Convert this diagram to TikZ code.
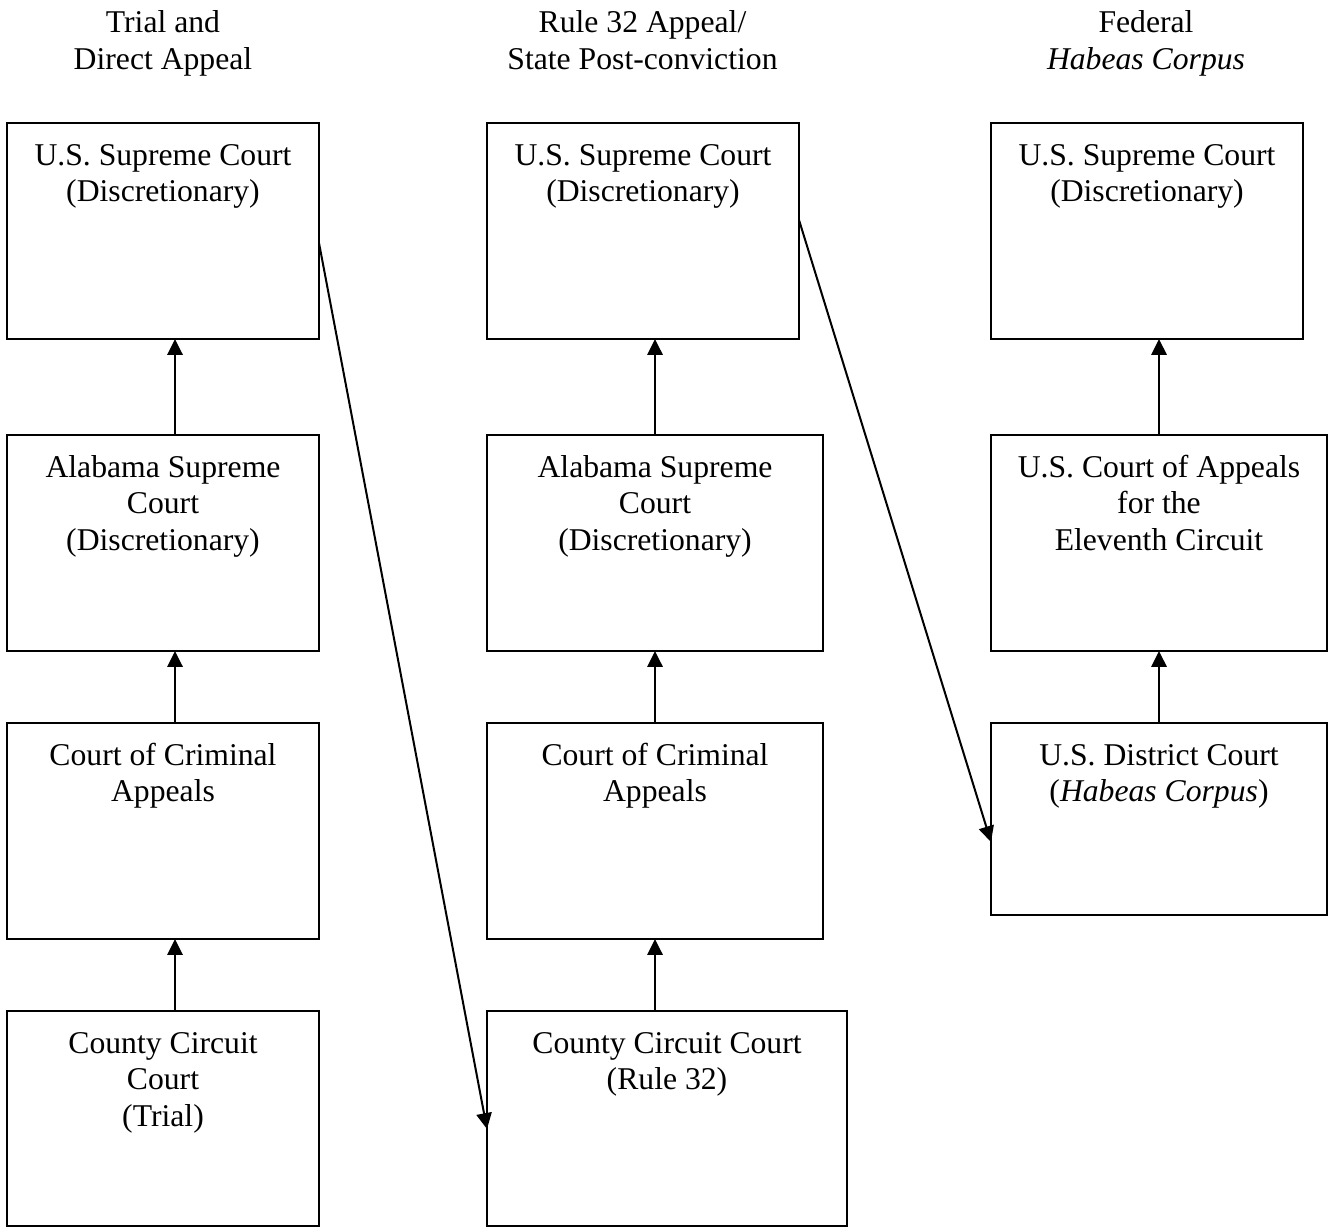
\documentclass[tikz,border=0pt]{standalone}
\usepackage{fontspec}
\setmainfont{Liberation Serif}
\usetikzlibrary{arrows.meta,calc}
\begin{document}
\begin{tikzpicture}[x=0.3788pt,y=-0.3788pt,
  box/.style={draw, line width=0.76pt, inner sep=0pt, outer sep=0pt, anchor=north west, minimum height=216*0.3788pt},
  lbl/.style={anchor=north, align=center, inner sep=0pt, font=\fontsize{12}{13.8}\selectfont},
  hdr/.style={lbl, font=\fontsize{12}{14.2}\selectfont},
  arr/.style={line width=0.76pt, -{Triangle[length=6pt,width=5.8pt]}}]
\useasboundingbox (0,0) rectangle (1334,1228);
% headers
\node[hdr] (h1) at (163,5.5) {\strut Trial and\\Direct Appeal};
\node[hdr] (h2) at (642.5,5.5) {\strut Rule 32 Appeal/\\State Post-conviction};
\node[hdr] (h3) at (1146,5.5) {\strut Federal\\\textit{Habeas Corpus}};
% column 1
\node[box, minimum width=312*0.3788pt] (A1) at (7,123) {};
\node[box, minimum width=312*0.3788pt] (A2) at (7,435) {};
\node[box, minimum width=312*0.3788pt] (A3) at (7,723) {};
\node[box, minimum width=312*0.3788pt, minimum height=215*0.3788pt] (A4) at (7,1011) {};
% column 2
\node[box, minimum width=312*0.3788pt] (B1) at (487,123) {};
\node[box, minimum width=336*0.3788pt] (B2) at (487,435) {};
\node[box, minimum width=336*0.3788pt] (B3) at (487,723) {};
\node[box, minimum width=360*0.3788pt, minimum height=215*0.3788pt] (B4) at (487,1011) {};
% column 3
\node[box, minimum width=312*0.3788pt] (C1) at (991,123) {};
\node[box, minimum width=336*0.3788pt] (C2) at (991,435) {};
\node[box, minimum width=336*0.3788pt, minimum height=192*0.3788pt] (C3) at (991,723) {};
% texts
\node[lbl] (tA1) at ($(A1.north)+(0,16.5)$) {\strut U.S. Supreme Court\\(Discretionary)};
\node[lbl] (tA2) at ($(A2.north)+(0,16.5)$) {\strut Alabama Supreme\\Court\\(Discretionary)};
\node[lbl] (tA3) at ($(A3.north)+(0,16.5)$) {\strut Court of Criminal\\Appeals};
\node[lbl] (tA4) at ($(A4.north)+(0,16.5)$) {\strut County Circuit\\Court\\(Trial)};
\node[lbl] (tB1) at ($(B1.north)+(0,16.5)$) {\strut U.S. Supreme Court\\(Discretionary)};
\node[lbl] (tB2) at ($(B2.north)+(0,16.5)$) {\strut Alabama Supreme\\Court\\(Discretionary)};
\node[lbl] (tB3) at ($(B3.north)+(0,16.5)$) {\strut Court of Criminal\\Appeals};
\node[lbl] (tB4) at ($(B4.north)+(0,16.5)$) {\strut County Circuit Court\\(Rule 32)};
\node[lbl] (tC1) at ($(C1.north)+(0,16.5)$) {\strut U.S. Supreme Court\\(Discretionary)};
\node[lbl] (tC2) at ($(C2.north)+(0,16.5)$) {\strut U.S. Court of Appeals\\for the\\Eleventh Circuit};
\node[lbl] (tC3) at ($(C3.north)+(0,16.5)$) {\strut U.S. District Court\\(\textit{Habeas Corpus})};
% arrow columns
\coordinate (xa) at (175,0);
\coordinate (xb) at (655,0);
\coordinate (xc) at (1159,0);
\draw[arr] (xa |- A4.north) -- (xa |- A3.south);
\draw[arr] (xa |- A3.north) -- (xa |- A2.south);
\draw[arr] (xa |- A2.north) -- (xa |- A1.south);
\draw[arr] (xb |- B4.north) -- (xb |- B3.south);
\draw[arr] (xb |- B3.north) -- (xb |- B2.south);
\draw[arr] (xb |- B2.north) -- (xb |- B1.south);
\draw[arr] (xc |- C3.north) -- (xc |- C2.south);
\draw[arr] (xc |- C2.north) -- (xc |- C1.south);
% diagonals
\coordinate (d1s) at ($(A1.north east)+(0,120)$);
\coordinate (d1e) at ($(B4.north west)+(0,118)$);
\coordinate (d2s) at ($(B1.north east)+(0,97)$);
\coordinate (d2e) at ($(C3.north west)+(0,119)$);
\draw[arr] (d1s) -- (d1e);
\draw[arr] (d2s) -- (d2e);
\end{tikzpicture}
\end{document}
